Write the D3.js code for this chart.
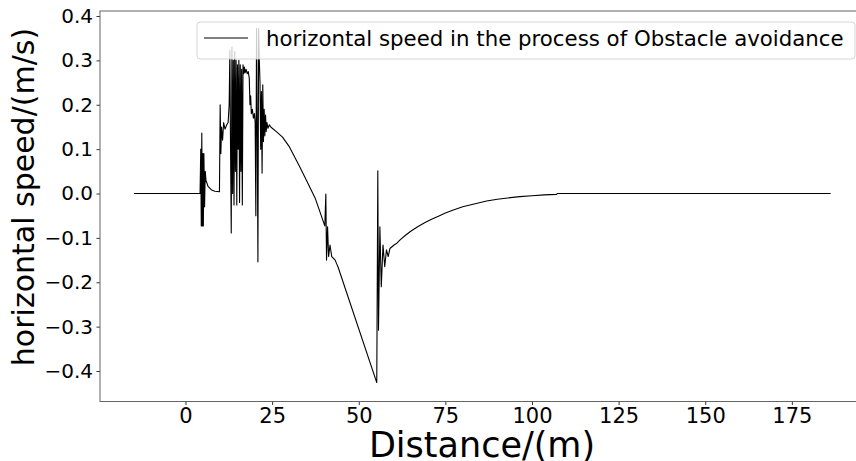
<!DOCTYPE html>
<html>
<head>
<meta charset="utf-8">
<script src="https://cdn.jsdelivr.net/npm/d3@7"></script>
<style>
  body { margin: 0; background: white; }
  svg { display: block; font-family: "DejaVu Sans", sans-serif; }
</style>
</head>
<body>
<div class="chart"></div>
<script>
// distance along the path (m)
const distance = [
  -14.9, 4.2, 4.4, 4.55, 4.7, 4.85, 5.0, 5.15, 5.3, 5.5, 5.7, 5.9, 6.5, 7.5, 8.5, 9.8,
  10.0, 10.2, 10.4, 10.7, 11.0, 11.4, 11.9, 12.3, 12.6, 12.8, 13.0, 13.2, 13.4, 13.6,
  13.8, 14.0, 14.2, 14.4, 14.6, 14.8, 15.0, 15.2, 15.4, 15.6, 15.8, 16.0, 16.2, 16.4,
  16.6, 16.8, 17.0, 17.2, 17.5, 17.8, 18.1, 18.4, 18.6, 18.8, 19.0, 19.3, 19.6, 19.9,
  20.1, 20.3, 20.5, 20.7, 20.9, 21.1, 21.3, 21.5, 21.7, 21.9, 22.1, 22.3, 22.5, 22.7,
  22.9, 23.1, 23.3, 23.5, 23.8, 24.2, 24.6, 26.3, 28.0, 30.0, 33.0, 35.0, 37.5, 40.2,
  40.5, 40.7, 41.0, 41.3, 41.7, 42.2, 42.7, 43.2, 43.6, 44.0, 55.2, 55.5, 55.7, 56.1,
  56.5, 57.0, 57.5, 58.0, 58.5, 59.0, 59.6, 60.2, 61.0, 62.0, 63.5, 65.0, 67.0, 69.0,
  71.0, 73.0, 75.0, 77.3, 80.0, 83.0, 86.9, 90.0, 93.0, 96.5, 100.0, 103.5, 107.1, 107.3,
  186.2
]

// horizontal speed (m/s)
const speed = [
  0, 0, 0.10, -0.073, 0.136, -0.073, 0.09, -0.073, 0.09, -0.03, 0.05, 0.03, 0.016, 0.008, 0.005, 0.004,
  0.20, 0.09, 0.15, 0.12, 0.16, 0.145, 0.155, 0.16, 0.20, 0.323, 0.10, -0.089, 0.33, 0.0,
  0.30, -0.026, 0.32, 0.05, 0.30, -0.026, 0.29, 0.10, 0.30, -0.02, 0.29, 0.05, 0.28, -0.026,
  0.29, 0.27, 0.285, 0.272, 0.28, 0.27, 0.275, 0.26, 0.20, 0.22, 0.18, 0.19, 0.17, 0.18,
  0.16, -0.05, 0.372, 0.15, -0.154, 0.372, 0.30, 0.25, 0.10, 0.23, 0.046, 0.245, 0.117, 0.19,
  0.13, 0.177, 0.14, 0.16, 0.147, 0.155, 0.15, 0.139, 0.127, 0.105, 0.060, 0.028, -0.012, -0.073,
  -0.001, -0.150, -0.075, -0.142, -0.116, -0.142, -0.146, -0.150, -0.158, -0.165, -0.426, 0.051, -0.308, -0.075,
  -0.210, -0.116, -0.165, -0.127, -0.142, -0.124, -0.120, -0.116, -0.112, -0.104, -0.094, -0.085, -0.075, -0.066,
  -0.058, -0.051, -0.044, -0.037, -0.030, -0.024, -0.017, -0.013, -0.010, -0.007, -0.005, -0.003, -0.002, 0,
  0
]

const xTicks = [0, 25, 50, 75, 100, 125, 150, 175]
const yTicks = [-0.4, -0.3, -0.2, -0.1, 0.0, 0.1, 0.2, 0.3, 0.4]

const legendLabel = 'horizontal speed in the process of Obstacle avoidance'

let width = 856
let height = 461

let svg = d3.select('.chart')
  .append('svg')
  .attr('width', width)
  .attr('height', height)

let x = d3.scaleLinear()
  .domain([-24.68, 196.4])
  .range([100, 866])

let y = d3.scaleLinear()
  .domain([-0.4687, 0.4113])
  .range([401.5, 11])

let points = distance.map((d, i) => [d, speed[i]])

let line = d3.line()
  .x(d => x(d[0]))
  .y(d => y(d[1]))

svg.append('path')
  .datum(points)
  .attr('d', line)
  .attr('fill', 'none')
  .attr('stroke', 'black')
  .attr('stroke-width', 1.1)
  .attr('stroke-linejoin', 'round')

// axes
let xAxis = svg.append('g')
  .attr('class', 'x-axis')
  .attr('transform', 'translate(0,401.5)')
  .call(d3.axisBottom(x).tickValues(xTicks).tickSize(3.5).tickPadding(3.5).tickFormat(d3.format('d')))

let yAxis = svg.append('g')
  .attr('class', 'y-axis')
  .attr('transform', 'translate(100,0)')
  .call(d3.axisLeft(y).tickValues(yTicks).tickSize(3.5).tickPadding(3.5)
    .tickFormat(d => d3.format('.1f')(d).replace('-', '\u2212')))

svg.selectAll('.domain').remove()
svg.selectAll('.tick line').attr('stroke', 'black').attr('stroke-width', 0.8)
svg.selectAll('.tick text')
  .attr('fill', 'black')
  .attr('font-family', 'DejaVu Sans')
  .attr('font-size', '20px')
svg.selectAll('.x-axis .tick text')
  .attr('font-size', '21px')

// spines (right one falls outside the picture)
svg.append('rect')
  .attr('x', 100)
  .attr('y', 11)
  .attr('width', 766)
  .attr('height', 390.5)
  .attr('fill', 'none')
  .attr('stroke', '#555')
  .attr('stroke-width', 0.9)

// legend
let legend = svg.append('g')
legend.append('rect')
  .attr('x', 197)
  .attr('y', 22)
  .attr('width', 658)
  .attr('height', 37)
  .attr('rx', 3)
  .attr('fill', 'white')
  .attr('fill-opacity', 0.8)
  .attr('stroke', '#cccccc')
  .attr('stroke-width', 0.8)
legend.append('line')
  .attr('x1', 204)
  .attr('x2', 248)
  .attr('y1', 38)
  .attr('y2', 38)
  .attr('stroke', 'black')
  .attr('stroke-width', 1.1)
legend.append('text')
  .attr('x', 266)
  .attr('y', 46)
  .attr('font-size', '21.3px')
  .attr('fill', 'black')
  .text(legendLabel)

// axis labels
svg.append('text')
  .attr('x', 482)
  .attr('y', 457)
  .attr('text-anchor', 'middle')
  .attr('font-size', '35px')
  .attr('fill', 'black')
  .text('Distance/(m)')

svg.append('text')
  .attr('transform', 'translate(34,197) rotate(-90)')
  .attr('text-anchor', 'middle')
  .attr('font-size', '30px')
  .attr('fill', 'black')
  .text('horizontal speed/(m/s)')
</script>
</body>
</html>
